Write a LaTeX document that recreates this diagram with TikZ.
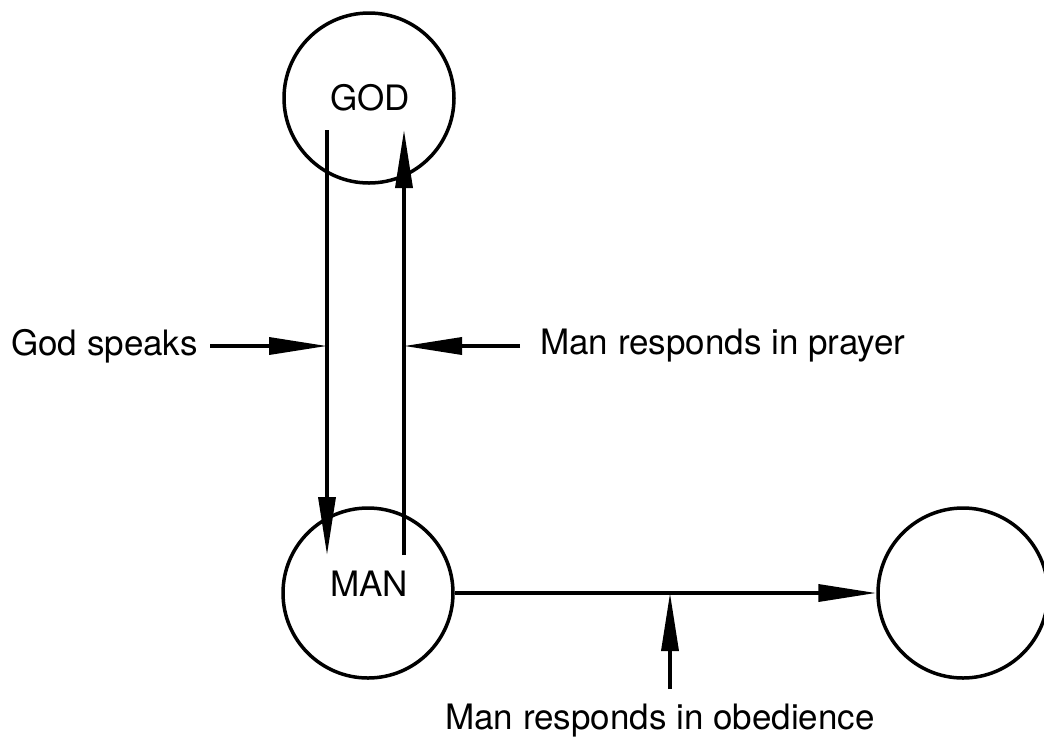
\documentclass[tikz,border=0pt]{standalone}
\usepackage{fontspec}
\setmainfont{TeX Gyre Heros}
\usetikzlibrary{calc}
\usetikzlibrary{arrows.meta}

\begin{document}
\begin{tikzpicture}[x=1pt,y=-1pt]

    \tikzstyle{vector}=[-{Triangle[length=58pt,width=17pt]},line width=3.5pt,color=black]
    \tikzstyle{ring}=[draw,circle,line width=3.5pt,minimum size=170pt,inner sep=0pt]
    \tikzstyle{caption}=[font=\fontsize{35}{41}\selectfont,inner sep=0pt]
    \useasboundingbox (0,0) rectangle (1044,740);

    % Circles and their names
    \node[style=ring] (god) at (369,98) {};
    \node[style=ring] (man) at (368,593) {};
    \node[style=ring] (next) at (963,593) {};
    \node[style=caption] (godname) at (370,98) {GOD};
    \node[style=caption] (manname) at (369,584) {MAN};

    % Draw God speaks, man prays
    \coordinate (speaktop) at (327,130);
    \coordinate (speakend) at (327,555);
    \coordinate (praystart) at (404,555);
    \coordinate (praytop) at (404,130);
    \draw[style=vector] (speaktop) -- (speakend);
    \draw[style=vector] (praystart) -- (praytop);

    % Draw obedience
    \draw[style=vector] (man.east) -- (next.west);

    % Labels with pointers
    \coordinate (speakhit) at (327,346);
    \coordinate (prayhit) at (404,346);
    \coordinate (obeyhit) at (670,593);
    \node[style=caption,anchor=east] (speaks) at (198,346) {God speaks};
    \node[style=caption,anchor=west] (prayer) at (540,346) {Man responds in prayer};
    \node[style=caption] (obedience) at (660,721) {Man responds in obedience};
    \draw[style=vector,shorten <=12pt] (speaks.east) -- (speakhit);
    \draw[style=vector,shorten <=20pt] (prayer.west) -- (prayhit);
    \draw[style=vector,shorten <=15pt] (obedience.north -| obeyhit) -- (obeyhit);

\end{tikzpicture}
\end{document}
